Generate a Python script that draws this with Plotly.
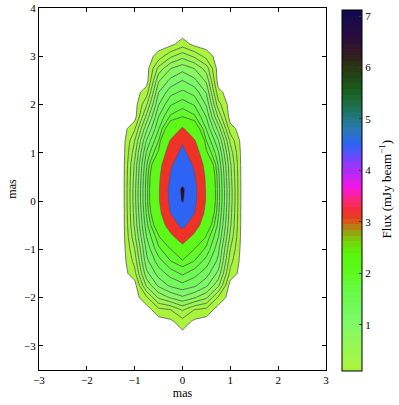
import plotly.graph_objects as go
from plotly.colors import sample_colorscale

# Map grid (mas) and flux density (mJy/beam)
x_mas = [-1.25, -1.0, -0.75, -0.5, -0.25, 0.0, 0.25, 0.5, 0.75, 1.0, 1.25]
y_mas = [-3.0, -2.75, -2.5, -2.25, -2.0, -1.75, -1.5, -1.25, -1.0, -0.75, -0.5, -0.25,
         0.0, 0.25, 0.5, 0.75, 1.0, 1.25, 1.5, 1.75, 2.0, 2.25, 2.5, 2.75, 3.0, 3.25, 3.5]
flux = [
    [0, 0, 0, 0, 0, 0, 0, 0, 0, 0, 0],
    [0, 0, 0, 0, 0, 0.05, 0, 0, 0, 0, 0],
    [0, 0, 0, 0, 0.05, 0.21, 0.05, 0, 0, 0, 0],
    [0, 0, 0, 0.24, 0.3, 0.53, 0.3, 0.24, 0, 0, 0],
    [0, 0, 0.26, 0.73, 0.92, 1.06, 0.92, 0.73, 0.26, 0, 0],
    [0, 0, 0.74, 1.14, 1.34, 1.43, 1.34, 1.14, 0.74, 0, 0],
    [0, 0.23, 1.04, 1.39, 1.58, 1.74, 1.58, 1.39, 1.04, 0.23, 0],
    [0, 0.37, 1.24, 1.6, 1.89, 2.03, 1.89, 1.6, 1.24, 0.37, 0],
    [0, 0.5, 1.35, 1.85, 2.09, 2.71, 2.09, 1.85, 1.35, 0.5, 0],
    [0, 0.64, 1.5, 2.03, 2.82, 3.75, 2.82, 2.03, 1.5, 0.64, 0],
    [0, 0.74, 1.63, 2.41, 3.73, 4.84, 3.73, 2.41, 1.63, 0.74, 0],
    [0, 0.78, 1.73, 2.78, 4.52, 5.0, 4.52, 2.78, 1.73, 0.78, 0],
    [0, 0.82, 1.8, 3.02, 4.8, 6.9, 4.8, 3.02, 1.8, 0.82, 0],
    [0, 0.82, 1.8, 3.02, 4.88, 7.1, 4.88, 3.02, 1.8, 0.82, 0],
    [0, 0.78, 1.77, 2.94, 4.6, 5.3, 4.6, 2.94, 1.77, 0.78, 0],
    [0, 0.74, 1.68, 2.69, 4.37, 5.1, 4.37, 2.69, 1.68, 0.74, 0],
    [0, 0.62, 1.53, 2.16, 3.86, 4.8, 3.86, 2.16, 1.53, 0.62, 0],
    [0, 0.5, 1.32, 1.9, 3.24, 4.37, 3.24, 1.9, 1.32, 0.45, 0],
    [0, 0.27, 1.06, 1.68, 2.42, 3.28, 2.42, 1.68, 1.02, 0.18, 0],
    [0, 0, 0.77, 1.5, 1.94, 2.09, 1.94, 1.48, 0.66, 0, 0],
    [0, 0, 0.48, 1.29, 1.68, 1.81, 1.68, 1.27, 0.38, 0, 0],
    [0, 0, 0.21, 1.1, 1.43, 1.55, 1.43, 1.08, 0.16, 0, 0],
    [0, 0, 0, 0.87, 1.15, 1.3, 1.15, 0.85, 0, 0, 0],
    [0, 0, 0, 0.56, 0.89, 1.02, 0.89, 0.6, 0, 0, 0],
    [0, 0, 0, 0.18, 0.46, 0.63, 0.46, 0.22, 0, 0, 0],
    [0, 0, 0, 0, 0.04, 0.2, 0.04, 0, 0, 0, 0],
    [0, 0, 0, 0, 0, 0, 0, 0, 0, 0, 0],
]

# contour levels (mJy/beam)
low_start, low_end, low_step = 0.1, 2.1, 0.2
high_levels = [3.15, 4.5, 6.7]
flux_min, flux_max = 0.1, 7.12
cbar_ticks = [1, 2, 3, 4, 5, 6, 7]

# colour map anchors
cmap_vals = [0.1, 0.6, 1.1, 1.6, 2.0, 2.4, 2.6, 2.8, 3.0, 3.15, 3.4, 3.65, 3.95,
             4.25, 4.5, 4.8, 5.05, 5.3, 5.6, 6.0, 6.3, 6.6, 7.12]
cmap_rgb = [(170, 245, 60), (150, 248, 85), (125, 250, 105), (105, 250, 75),
            (95, 250, 30), (90, 245, 10), (115, 215, 10), (150, 160, 15),
            (215, 90, 25), (238, 50, 38), (250, 40, 110), (250, 20, 225),
            (185, 40, 245), (110, 70, 250), (45, 100, 245), (40, 120, 175),
            (30, 120, 120), (30, 110, 65), (25, 90, 25), (40, 55, 20),
            (50, 25, 35), (40, 12, 60), (15, 10, 80)]

FONT = "Liberation Serif"
LINE = "rgb(80,80,80)"

span = flux_max - flux_min
smooth = [[(v - flux_min) / span, "rgb(%d,%d,%d)" % c] for v, c in zip(cmap_vals, cmap_rgb)]


def flux_color(v):
    return sample_colorscale(smooth, [(v - flux_min) / span])[0]


# 64-step colour bar like the original
steps = 64
step_cols = sample_colorscale(smooth, [(i + 0.5) / steps for i in range(steps)])
stepped = []
for i, c in enumerate(step_cols):
    stepped += [[i / steps, c], [(i + 1) / steps, c]]

# fill colours for the low levels: white below the first level
n_low = int(round((low_end - low_start) / low_step)) + 1
low_scale = [[0, "white"]]
for j in range(1, n_low + 1):
    low_scale.append([j / n_low, flux_color(low_start + (j - 1) * low_step)])

fig = go.Figure()

fig.add_trace(go.Contour(
    x=x_mas, y=y_mas, z=flux,
    autocontour=False,
    contours=dict(start=low_start, end=low_end, size=low_step, coloring="fill"),
    colorscale=low_scale, showscale=False,
    line=dict(color=LINE, width=0.8, smoothing=0),
    hoverinfo="skip",
))

# plotly shades the side that breaks the constraint, so "<" paints z > level
for lev in high_levels:
    fig.add_trace(go.Contour(
        x=x_mas, y=y_mas, z=flux,
        contours=dict(type="constraint", operation="<", value=lev),
        fillcolor=flux_color(lev),
        line=dict(color=LINE, width=0.5, smoothing=0),
        showscale=False, hoverinfo="skip",
    ))

# colour bar
fig.add_trace(go.Scatter(
    x=[0], y=[0], mode="markers",
    marker=dict(size=1, opacity=0, color=[flux_min], colorscale=stepped,
                cmin=flux_min, cmax=flux_max, showscale=True,
                colorbar=dict(
                    x=1.056, xanchor="left", xpad=0,
                    y=0.496, yanchor="middle", ypad=0,
                    lenmode="pixels", len=361, thickness=20,
                    outlinecolor="black", outlinewidth=1,
                    tickvals=cbar_ticks, ticks="inside", ticklen=3,
                    tickcolor="rgb(60,60,60)",
                    tickfont=dict(family=FONT, size=11, color="black"),
                )),
    hoverinfo="skip", showlegend=False,
))

fig.add_annotation(
    text="Flux (mJy beam<sup>\u22121</sup>)",
    xref="paper", yref="paper", x=1.207, y=0.5,
    xanchor="center", yanchor="middle", textangle=-90, showarrow=False,
    font=dict(family=FONT, size=13, color="black"),
)

axis_common = dict(
    ticks="inside", ticklen=4, tickcolor="black",
    showline=True, linecolor="black", linewidth=1, mirror="ticks",
    showgrid=False, zeroline=False, automargin=False,
    tickfont=dict(family=FONT, size=11, color="black"),
)
fig.update_xaxes(range=[-3, 3], tickvals=[-3, -2, -1, 0, 1, 2, 3],
                 title=dict(text="mas", standoff=2, font=dict(family=FONT, size=12)),
                 **axis_common)
fig.update_yaxes(range=[-3.5, 4], tickvals=[-3, -2, -1, 0, 1, 2, 3, 4],
                 title=dict(text="mas", standoff=4, font=dict(family=FONT, size=12)),
                 **axis_common)

fig.update_layout(
    width=399, height=405,
    margin=dict(l=39, r=73, t=8, b=35, autoexpand=False),
    plot_bgcolor="white", paper_bgcolor="white",
    font=dict(family=FONT, size=11, color="black"),
    showlegend=False,
)

# drop the browser's default body margin so the figure sits at the page corner
fig.write_html("out.html", config={"displayModeBar": False},
               post_script="document.body.style.margin = '0px';")
